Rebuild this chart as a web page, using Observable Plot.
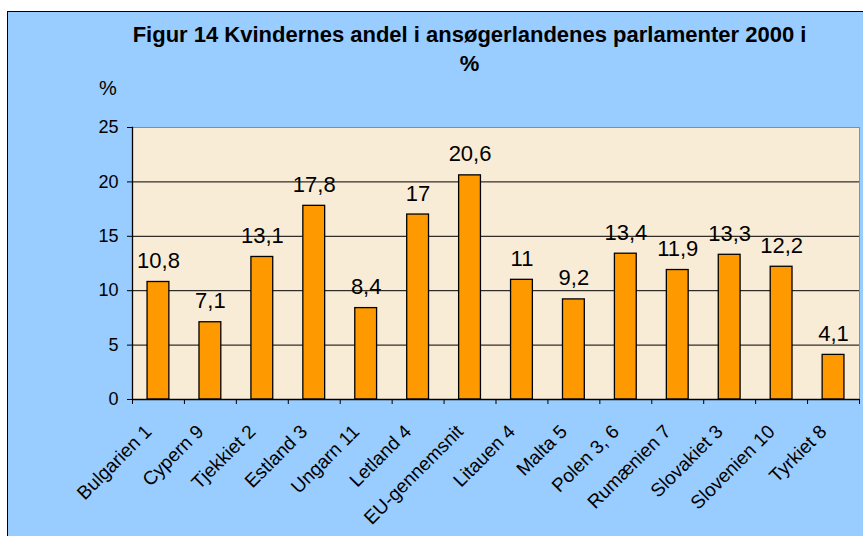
<!DOCTYPE html>
<html>
<head>
<meta charset="utf-8">
<script src="https://cdn.jsdelivr.net/npm/d3@7"></script>
<script src="https://cdn.jsdelivr.net/npm/@observablehq/plot@0.6"></script>
<style>
  html, body { margin: 0; padding: 0; background: #fff; width: 863px; height: 536px; overflow: hidden; }
  #frame { position: absolute; left: 7px; top: 11px; width: 856px; height: 525px; background: #99ccff;
           border-left: 1.5px solid #000; border-top: 1.5px solid #000; box-sizing: border-box; }
  #chart { position: absolute; left: 7px; top: 11px; }
  #title { position: absolute; left: 0; top: 20px; width: 939px; text-align: center;
           font-family: "Liberation Sans", Arial, sans-serif; font-weight: bold; font-size: 22px; line-height: 29px; color: #000; }
  #ylab { position: absolute; left: 99px; top: 77px; font-family: "Liberation Sans", Arial, sans-serif; font-size: 20px; color: #000; }
</style>
</head>
<body>
<div id="frame"></div>
<div id="chart"></div>
<div id="title">Figur 14 Kvindernes andel i ansøgerlandenes parlamenter 2000 i<br>%</div>
<div id="ylab">%</div>
<script>
const categories = ["Bulgarien 1","Cypern 9","Tjekkiet 2","Estland 3","Ungarn 11","Letland 4","EU-gennemsnit","Litauen 4","Malta 5","Polen 3, 6","Rumænien 7","Slovakiet 3","Slovenien 10","Tyrkiet 8"];
const values = [10.8, 7.1, 13.1, 17.8, 8.4, 17, 20.6, 11, 9.2, 13.4, 11.9, 13.3, 12.2, 4.1];
const yTicks = [0, 5, 10, 15, 20, 25];
const gridValues = [5, 10, 15, 20];

const data = categories.map((c, i) => ({cat: c, val: values[i]}));
const fmt = v => String(v).replace(".", ",");

const W = 856, H = 525, mL = 125, mR = 4, mT = 116, mB = 137;
const step = (W - mL - mR) / categories.length;

const chart = Plot.plot({
  width: W, height: H,
  marginLeft: mL, marginRight: mR, marginTop: mT, marginBottom: mB,
  style: {background: "transparent", fontFamily: "'Liberation Sans', Arial, sans-serif", color: "#000", overflow: "visible"},
  x: {domain: categories, paddingInner: 0.58, paddingOuter: 0.29, round: false, label: null},
  y: {domain: [0, 25], label: null},
  marks: [
    Plot.frame({fill: "#f8ecd6", stroke: "#8c8c8c"}),
    Plot.ruleY(gridValues, {stroke: "#000", strokeWidth: 1}),
    Plot.barY(data, {x: "cat", y: "val", fill: "#ff9900", stroke: "#000", strokeWidth: 1.3}),
    Plot.text(data, {x: "cat", y: "val", text: d => fmt(d.val), dy: -14, lineAnchor: "bottom", fontSize: 22, fill: "#000"}),
    Plot.ruleY([0], {stroke: "#000", strokeWidth: 1.3}),
    Plot.frame({anchor: "left", stroke: "#000", strokeWidth: 1.3}),
    Plot.axisY({ticks: yTicks, tickSize: 5, tickPadding: 9, fontSize: 18, label: null}),
    Plot.axisX({tickSize: 0, tickRotate: -45, tickPadding: 29, dx: -10, fontSize: 19, label: null}),
    Plot.axisX({tickSize: 5, tickFormat: null, dx: -step / 2, label: null}),
    Plot.axisX({ticks: [categories[categories.length - 1]], tickSize: 5, tickFormat: null, dx: step / 2, label: null})
  ]
});
document.getElementById("chart").appendChild(chart);
</script>
</body>
</html>
